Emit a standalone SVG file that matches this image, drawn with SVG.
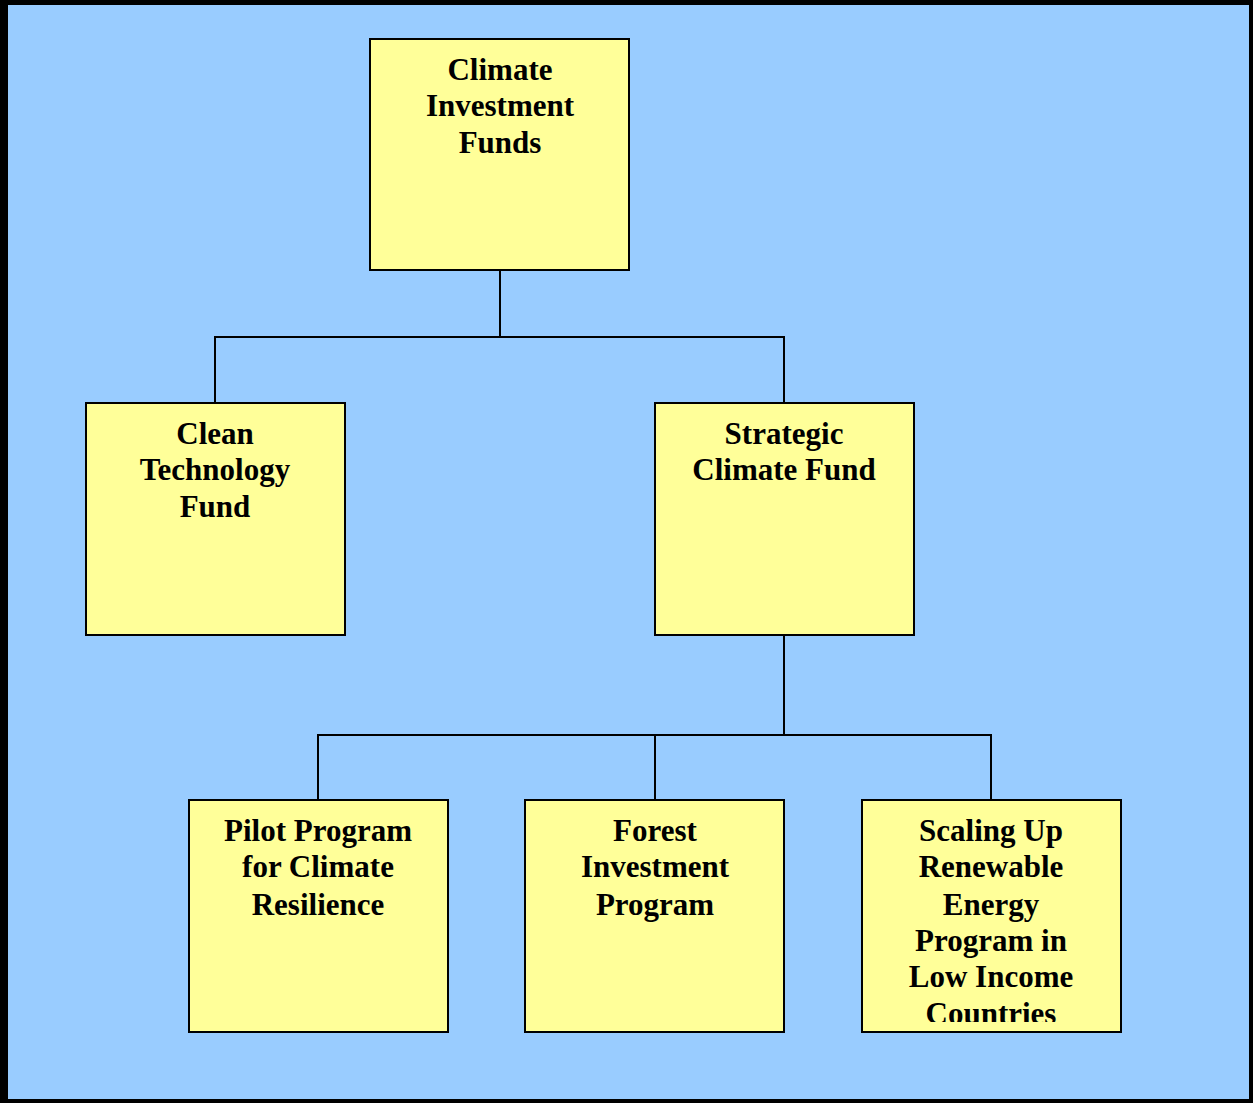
<svg xmlns="http://www.w3.org/2000/svg" width="1253" height="1103" viewBox="0 0 1253 1103">
<style>
.box{fill:#FFFF99;stroke:#000;stroke-width:2}
.t{font-family:"Times New Roman","Liberation Serif",Times,serif;font-weight:bold;font-size:31px;fill:#000;text-anchor:middle}
.c{fill:none;stroke:#000;stroke-width:2}
</style>
<defs>
<clipPath id="clipS"><rect x="863" y="801" width="257" height="221"/></clipPath>
</defs>
<rect x="0" y="0" width="1253" height="1103" fill="#000"/>
<rect x="8" y="5" width="1241" height="1094" fill="#99CCFF"/>
<g id="connectors">
<path class="c" d="M500 270V337M215 403V337H784V403"/>
<path class="c" d="M784 635V735M318 800V735H991V800M655 735V800"/>
</g>
<g id="cif">
<rect class="box" x="370" y="39" width="259" height="231"/>
<text class="t" x="500" y="80">Climate</text>
<text class="t" x="500" y="116">Investment</text>
<text class="t" x="500" y="153">Funds</text>
</g>
<g id="ctf">
<rect class="box" x="86" y="403" width="259" height="232"/>
<text class="t" x="215" y="444">Clean</text>
<text class="t" x="215" y="480">Technology</text>
<text class="t" x="215" y="517">Fund</text>
</g>
<g id="scf">
<rect class="box" x="655" y="403" width="259" height="232"/>
<text class="t" x="784" y="444">Strategic</text>
<text class="t" x="784" y="480">Climate Fund</text>
</g>
<g id="ppcr">
<rect class="box" x="189" y="800" width="259" height="232"/>
<text class="t" x="318" y="841">Pilot Program</text>
<text class="t" x="318" y="877">for Climate</text>
<text class="t" x="318" y="915">Resilience</text>
</g>
<g id="fip">
<rect class="box" x="525" y="800" width="259" height="232"/>
<text class="t" x="655" y="841">Forest</text>
<text class="t" x="655" y="877">Investment</text>
<text class="t" x="655" y="915">Program</text>
</g>
<g id="srep">
<rect class="box" x="862" y="800" width="259" height="232"/>
<g clip-path="url(#clipS)">
<text class="t" x="991" y="841">Scaling Up</text>
<text class="t" x="991" y="877">Renewable</text>
<text class="t" x="991" y="915">Energy</text>
<text class="t" x="991" y="951">Program in</text>
<text class="t" x="991" y="987">Low Income</text>
<text class="t" x="991" y="1024">Countries</text>
</g>
</g>
</svg>
